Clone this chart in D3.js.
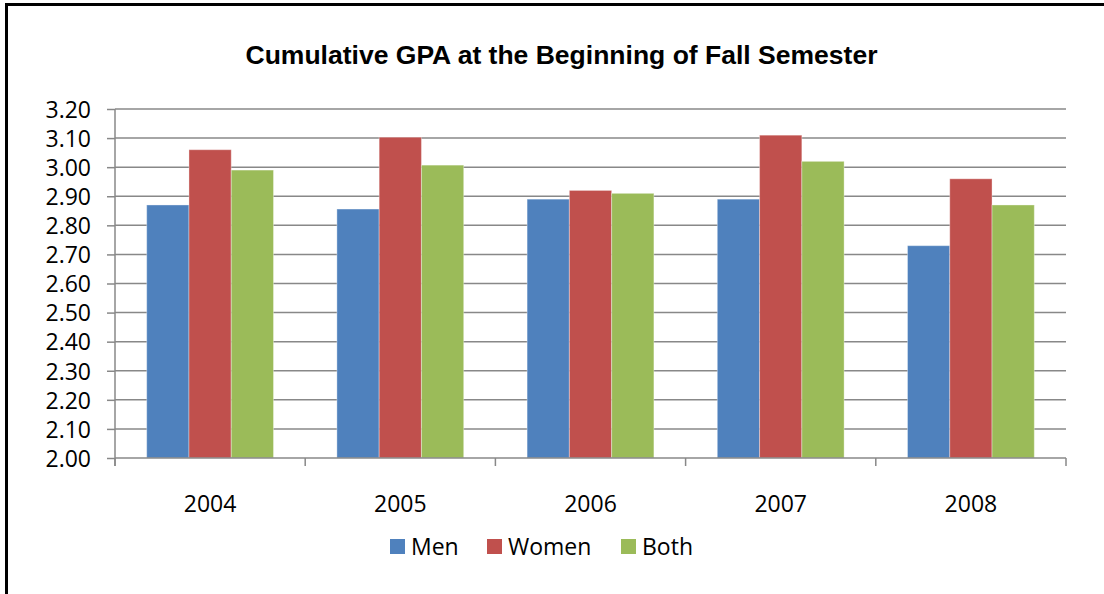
<!DOCTYPE html>
<meta charset="utf-8">
<script src="https://d3js.org/d3.v7.min.js"></script>
<style>
	body{
		margin:0;
		background:#fff;
	}
	svg text{
		font-family:'Open Sans', sans-serif;
		fill:#000;
	}
</style>
<div id="chart"></div>
<script>
	var years = ["2004","2005","2006","2007","2008"]
	var seriesNames = ["Men","Women","Both"]
	var men = [2.87,2.856,2.89,2.89,2.73]
	var women = [3.06,3.103,2.92,3.11,2.96]
	var both = [2.99,3.007,2.91,3.02,2.87]
	var yTicks = [2.0,2.1,2.2,2.3,2.4,2.5,2.6,2.7,2.8,2.9,3.0,3.1,3.2]
	var colors = ["#4F81BD","#C0504D","#9BBB59"]
	var title = "Cumulative GPA at the Beginning of Fall Semester"

	var w = 1104
	var h = 594
	var pLeft = 115, pRight = 1066, pTop = 109, pBottom = 458

	var svg = d3.select("#chart").append("svg").attr("width",w).attr("height",h)

	// frame: only top and left edges show
	svg.append("line").attr("x1",5).attr("x2",w).attr("y1",4.5).attr("y2",4.5)
		.attr("stroke","#000").attr("stroke-width",3)
	svg.append("line").attr("x1",6.5).attr("x2",6.5).attr("y1",3).attr("y2",h)
		.attr("stroke","#000").attr("stroke-width",3)

	svg.append("text").text(title)
		.attr("x",561.5).attr("y",64)
		.attr("text-anchor","middle")
		.attr("textLength",632).attr("lengthAdjust","spacingAndGlyphs")
		.style("font-family","'Liberation Sans',Arial,sans-serif")
		.style("font-weight","bold")
		.style("font-size","26px")

	var yScale = d3.scaleLinear().domain([2.0,3.2]).range([pBottom,pTop])
	var x0 = d3.scaleBand().domain(years).range([pLeft,pRight])
	var bw = x0.bandwidth()
	var barW = bw/4.5
	var x1 = d3.scaleBand().domain(seriesNames).range([barW*0.75,bw-barW*0.75])

	// gridlines
	svg.append("g").selectAll("line").data(yTicks.slice(1)).enter().append("line")
		.attr("x1",pLeft).attr("x2",pRight)
		.attr("y1",function(d){return yScale(d)}).attr("y2",function(d){return yScale(d)})
		.attr("stroke","#888").attr("stroke-width",1.5)

	var data = [men,women,both]
	var groups = svg.append("g").selectAll("g").data(years).enter().append("g")
		.attr("transform",function(d){return "translate("+x0(d)+",0)"})
	groups.selectAll("rect")
		.data(function(d,i){return seriesNames.map(function(s,j){return {s:s,v:data[j][i],c:colors[j]}})})
		.enter().append("rect")
		.attr("x",function(d){return x1(d.s)})
		.attr("width",x1.bandwidth())
		.attr("y",function(d){return yScale(d.v)})
		.attr("height",function(d){return pBottom-yScale(d.v)})
		.attr("fill",function(d){return d.c})
		.attr("stroke","rgba(255,255,255,0.35)").attr("stroke-width",1)

	// y axis
	var yAxis = d3.axisLeft(yScale).tickValues(yTicks).tickFormat(d3.format(".2f")).tickSize(8).tickPadding(16)
	var gy = svg.append("g").attr("transform","translate("+pLeft+",0)").call(yAxis)
	gy.select(".domain").attr("stroke","#888").attr("stroke-width",1.5).attr("d","M0,"+(pBottom+8)+"V"+pTop)
	gy.selectAll(".tick line").attr("stroke","#888").attr("stroke-width",1.5)
	gy.selectAll(".tick text").style("font-size","23px").attr("dy","0.36em")

	// x axis
	var xAxis = d3.axisBottom(x0).tickSize(0).tickPadding(38)
	var gx = svg.append("g").attr("transform","translate(0,"+pBottom+")").call(xAxis)
	gx.select(".domain").attr("stroke","#888").attr("stroke-width",1.5).attr("d","M"+pLeft+",0H"+pRight)
	gx.selectAll(".tick text").style("font-size","23px")
	gx.selectAll(".sep").data(years.concat(["end"])).enter().append("line")
		.attr("x1",function(d,i){return pLeft+i*bw}).attr("x2",function(d,i){return pLeft+i*bw})
		.attr("y1",0).attr("y2",8)
		.attr("stroke","#888").attr("stroke-width",1.5)

	// legend
	var legX = [390,487,621]
	var leg = svg.append("g").selectAll("g").data(seriesNames).enter().append("g")
		.attr("transform",function(d,i){return "translate("+legX[i]+",539)"})
	leg.append("rect").attr("width",15).attr("height",15).attr("fill",function(d,i){return colors[i]})
	leg.append("text").text(function(d){return d}).attr("x",21).attr("y",15.5).style("font-size","23px")
</script>
